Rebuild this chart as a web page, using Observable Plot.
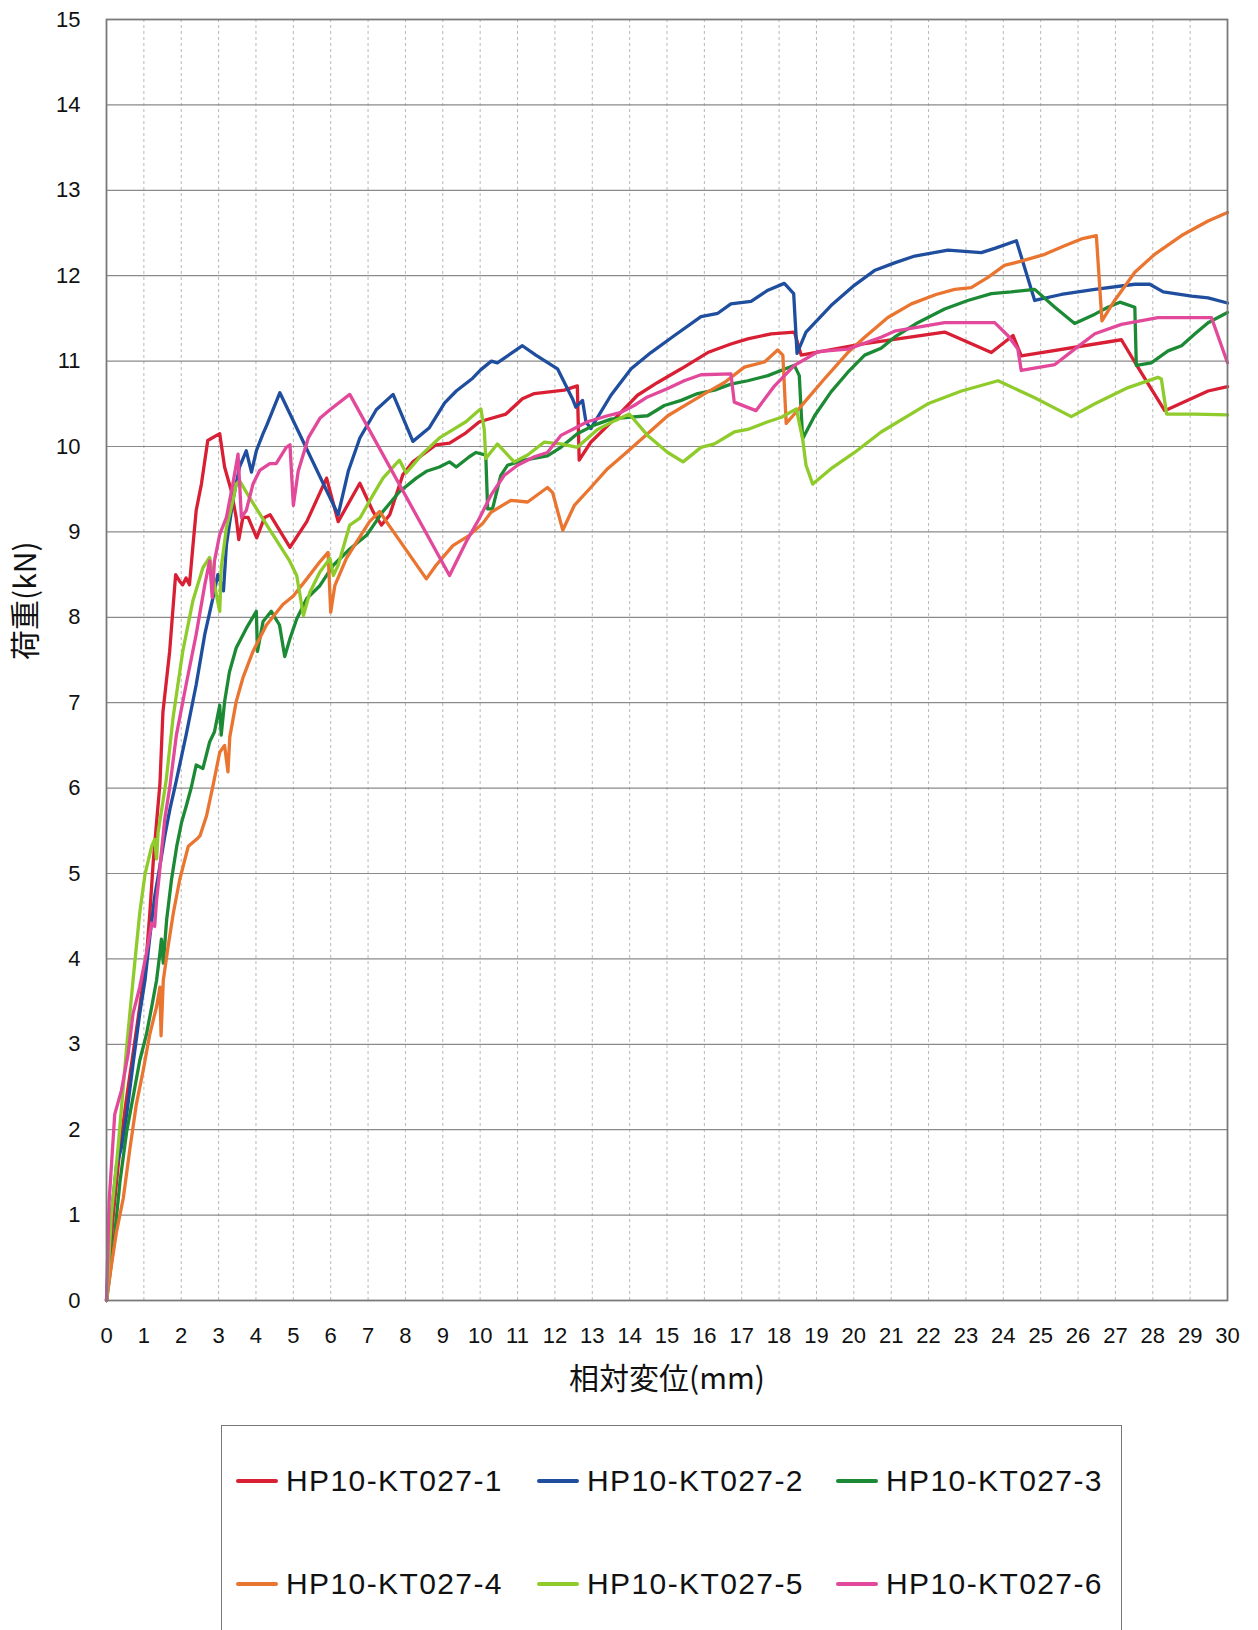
<!DOCTYPE html>
<html><head><meta charset="utf-8">
<script src="https://cdn.jsdelivr.net/npm/d3@7"></script>
<script src="https://cdn.jsdelivr.net/npm/@observablehq/plot@0.6"></script>
<style>
body{margin:0;background:#fff;width:1258px;height:1630px;overflow:hidden;position:relative;font-family:"Liberation Sans",Arial,sans-serif;}
#chart{position:absolute;left:0;top:0;}
#legend{position:absolute;left:221px;top:1425px;width:901px;height:260px;border:1.5px solid #777;box-sizing:border-box;background:#fff;}
.item{position:absolute;height:40px;line-height:40px;display:flex;align-items:center;font-size:30px;color:#111;letter-spacing:1.4px;white-space:nowrap;}
.sw{display:inline-block;width:42px;height:4px;margin-right:8px;border-radius:2px;}
</style></head>
<body>
<div id="chart"></div>
<div id="legend"></div>
<script>
const seriesNames = ["HP10-KT027-1","HP10-KT027-2","HP10-KT027-3","HP10-KT027-4","HP10-KT027-5","HP10-KT027-6"];
const seriesColors = ["#d81f34","#1f4e9e","#1c8a34","#ea7530","#8fcb2b","#e2499b"];
const xTicks = d3.range(0, 31);
const yTicks = d3.range(0, 16);
const xLabel = "相対変位(mm)";
const yLabel = "荷重(kN)";

const s1 = [[0,0],[0.18,1.0],[0.36,1.79],[0.54,2.38],[0.71,2.89],[0.89,3.44],[1.07,4.03],[1.16,4.54],[1.25,5.13],[1.34,5.6],[1.43,6.05],[1.51,6.89],[1.69,7.6],[1.85,8.5],[1.96,8.42],[2.04,8.38],[2.13,8.46],[2.22,8.38],[2.31,8.82],[2.4,9.25],[2.54,9.56],[2.71,10.07],[3.03,10.15],[3.16,9.76],[3.34,9.48],[3.47,9.17],[3.54,8.91],[3.65,9.17],[3.79,9.17],[4.02,8.93],[4.23,9.17],[4.38,9.2],[4.91,8.82],[5.36,9.12],[5.89,9.63],[6.2,9.12],[6.78,9.57],[7.13,9.24],[7.36,9.08],[7.58,9.2],[7.93,9.67],[8.2,9.82],[8.82,10.02],[9.18,10.04],[9.62,10.16],[9.98,10.29],[10.69,10.38],[11.13,10.56],[11.45,10.62],[12.25,10.66],[12.6,10.71],[12.65,9.84],[12.96,10.05],[13.59,10.32],[14.21,10.6],[14.75,10.75],[15.38,10.91],[16.09,11.1],[16.71,11.2],[17.16,11.26],[17.79,11.32],[18.41,11.34],[18.59,11.07],[20.2,11.2],[22.43,11.34],[23.68,11.1],[24.26,11.3],[24.48,11.06],[27.16,11.25],[27.6,10.93],[28.32,10.42],[29.48,10.65],[30,10.7]];
const s2 = [[0,0],[0.13,1.0],[0.27,1.59],[0.4,1.79],[0.54,2.18],[0.71,2.77],[0.89,3.36],[1.03,3.75],[1.16,4.26],[1.29,4.73],[1.43,5.09],[1.56,5.44],[1.7,5.76],[1.85,6.05],[2.13,6.62],[2.4,7.21],[2.63,7.8],[2.85,8.23],[2.98,8.5],[3.1,8.35],[3.13,8.31],[3.21,8.85],[3.38,9.36],[3.56,9.76],[3.74,9.95],[3.88,9.7],[4.01,9.95],[4.19,10.15],[4.29,10.25],[4.64,10.63],[6.2,9.2],[6.47,9.71],[6.78,10.1],[7.22,10.43],[7.67,10.61],[8.2,10.06],[8.64,10.22],[9.05,10.51],[9.36,10.65],[9.8,10.8],[10.02,10.9],[10.3,11.0],[10.46,10.98],[11.13,11.18],[11.49,11.07],[12.07,10.91],[12.47,10.56],[12.56,10.46],[12.74,10.54],[12.83,10.29],[12.96,10.21],[13.5,10.6],[14.04,10.91],[14.57,11.1],[15.2,11.3],[15.91,11.52],[16.36,11.56],[16.71,11.67],[17.25,11.7],[17.7,11.83],[18.14,11.91],[18.39,11.79],[18.48,11.09],[18.72,11.34],[19.39,11.65],[20.02,11.89],[20.55,12.06],[21.09,12.15],[21.63,12.23],[22.52,12.3],[23.41,12.27],[23.77,12.32],[24.35,12.41],[24.84,11.71],[25.55,11.78],[26.45,11.84],[27.52,11.9],[27.92,11.9],[28.28,11.81],[29.04,11.76],[29.48,11.74],[30,11.68]];
const s3 = [[0,0],[0.18,0.6],[0.36,1.39],[0.54,1.98],[0.71,2.38],[0.89,2.81],[1.07,3.12],[1.21,3.44],[1.34,3.75],[1.43,4.07],[1.47,4.23],[1.52,3.95],[1.61,4.46],[1.74,4.93],[1.88,5.32],[2.01,5.6],[2.14,5.8],[2.27,6.01],[2.4,6.27],[2.58,6.23],[2.76,6.54],[2.89,6.66],[3.03,6.97],[3.07,6.62],[3.16,7.01],[3.29,7.36],[3.47,7.64],[3.74,7.87],[4.01,8.07],[4.04,7.6],[4.19,7.95],[4.41,8.07],[4.63,7.91],[4.77,7.54],[4.91,7.75],[5.09,7.98],[5.36,8.22],[5.71,8.37],[6.07,8.61],[6.51,8.8],[6.96,8.96],[7.4,9.24],[7.84,9.47],[8.29,9.63],[8.56,9.71],[8.91,9.76],[9.18,9.82],[9.36,9.76],[9.71,9.88],[9.89,9.93],[10.15,9.9],[10.2,9.27],[10.33,9.27],[10.55,9.66],[10.73,9.78],[11.18,9.84],[11.8,9.89],[12.16,9.99],[12.6,10.15],[13.05,10.25],[13.5,10.32],[13.95,10.34],[14.48,10.36],[14.93,10.48],[15.38,10.54],[15.82,10.62],[16.27,10.66],[16.71,10.73],[17.16,10.77],[17.7,10.83],[18.05,10.89],[18.41,10.95],[18.54,10.83],[18.63,10.09],[18.95,10.36],[19.39,10.64],[19.84,10.87],[20.29,11.07],[20.73,11.15],[21.09,11.28],[21.71,11.45],[22.43,11.61],[23.05,11.71],[23.68,11.79],[24.21,11.81],[24.84,11.84],[25.38,11.63],[25.91,11.44],[26.45,11.55],[26.8,11.63],[27.12,11.69],[27.52,11.63],[27.56,10.95],[27.96,10.98],[28.41,11.12],[28.77,11.18],[29.13,11.32],[29.48,11.45],[30,11.57]];
const s4 = [[0,0],[0.13,0.41],[0.27,0.81],[0.45,1.2],[0.63,1.79],[0.8,2.3],[0.98,2.69],[1.16,3.12],[1.34,3.44],[1.43,3.67],[1.46,3.1],[1.52,3.75],[1.65,4.15],[1.79,4.54],[1.96,4.93],[2.19,5.32],[2.41,5.4],[2.5,5.44],[2.68,5.68],[2.86,6.05],[3.03,6.42],[3.16,6.5],[3.25,6.19],[3.3,6.6],[3.47,7.01],[3.65,7.29],[3.92,7.6],[4.28,7.91],[4.72,8.15],[5.0,8.25],[5.36,8.45],[5.71,8.65],[5.93,8.76],[6.0,8.06],[6.11,8.37],[6.42,8.69],[6.69,8.88],[7.04,9.12],[7.31,9.24],[7.49,9.12],[8.56,8.45],[8.82,8.61],[9.27,8.84],[9.71,8.96],[10.07,9.1],[10.29,9.23],[10.82,9.37],[11.27,9.35],[11.8,9.52],[11.94,9.46],[12.21,9.02],[12.52,9.31],[12.96,9.52],[13.41,9.74],[13.86,9.91],[14.48,10.15],[15.02,10.36],[15.55,10.5],[16.09,10.64],[16.54,10.75],[17.07,10.93],[17.61,10.99],[17.96,11.13],[18.1,11.07],[18.19,10.27],[18.37,10.36],[18.68,10.52],[19.21,10.79],[19.84,11.1],[20.29,11.28],[20.91,11.51],[21.54,11.67],[22.2,11.78],[22.7,11.84],[23.14,11.86],[23.59,11.98],[24.03,12.12],[24.48,12.17],[25.11,12.25],[25.64,12.35],[26.09,12.43],[26.49,12.47],[26.64,11.47],[26.98,11.71],[27.52,12.04],[28.05,12.25],[28.77,12.47],[29.48,12.64],[30,12.74]];
const s5 = [[0,0],[0.13,1.0],[0.31,1.79],[0.54,2.97],[0.71,3.75],[0.89,4.54],[1.03,4.99],[1.21,5.32],[1.29,5.4],[1.34,5.17],[1.38,5.48],[1.52,5.87],[1.6,6.1],[1.78,6.82],[2.04,7.6],[2.31,8.19],[2.58,8.58],[2.76,8.7],[2.89,8.38],[3.03,8.07],[3.07,8.58],[3.21,9.05],[3.38,9.36],[3.47,9.56],[3.56,9.6],[3.83,9.4],[4.29,9.08],[4.9,8.66],[5.09,8.49],[5.27,8.02],[5.44,8.29],[5.71,8.53],[5.98,8.69],[6.07,8.49],[6.2,8.61],[6.51,9.08],[6.78,9.16],[7.13,9.43],[7.4,9.63],[7.71,9.78],[7.84,9.84],[8.02,9.69],[8.47,9.92],[8.91,10.1],[9.36,10.22],[9.62,10.29],[9.93,10.41],[10.02,10.44],[10.11,10.2],[10.15,9.86],[10.46,10.03],[10.91,9.82],[11.27,9.9],[11.71,10.05],[12.16,10.03],[12.6,9.99],[13.14,10.2],[13.59,10.3],[13.99,10.38],[14.48,10.13],[15.02,9.93],[15.43,9.82],[15.91,9.99],[16.27,10.03],[16.8,10.17],[17.16,10.2],[17.7,10.29],[18.05,10.34],[18.46,10.44],[18.63,10.09],[18.72,9.78],[18.9,9.56],[19.39,9.74],[20.02,9.93],[20.73,10.17],[21.98,10.5],[22.88,10.65],[23.86,10.77],[24.84,10.57],[25.82,10.35],[26.45,10.5],[27.34,10.69],[28.14,10.81],[28.23,10.79],[28.37,10.38],[29.13,10.38],[30,10.37]];
const s6 = [[0,0],[0.07,1.16],[0.22,2.18],[0.4,2.46],[0.58,2.89],[0.71,3.36],[0.89,3.67],[1.07,4.07],[1.21,4.42],[1.29,4.38],[1.34,4.69],[1.41,4.97],[1.47,5.25],[1.56,5.64],[1.69,6.0],[1.87,6.62],[2.13,7.21],[2.4,7.8],[2.63,8.38],[2.76,8.66],[2.83,8.23],[2.89,8.66],[3.03,8.97],[3.21,9.17],[3.38,9.56],[3.52,9.91],[3.57,9.5],[3.61,9.17],[3.74,9.25],[3.92,9.56],[4.1,9.72],[4.37,9.8],[4.54,9.8],[4.81,9.99],[4.91,10.02],[5.0,9.31],[5.13,9.71],[5.4,10.1],[5.71,10.33],[5.98,10.43],[6.51,10.61],[9.18,8.49],[9.62,8.88],[9.98,9.16],[10.29,9.43],[10.64,9.66],[11.0,9.78],[11.45,9.88],[11.8,9.93],[12.16,10.13],[12.52,10.21],[12.87,10.29],[13.41,10.36],[13.77,10.4],[14.12,10.48],[14.48,10.58],[15.02,10.68],[15.46,10.77],[15.91,10.84],[16.71,10.85],[16.8,10.52],[17.38,10.42],[17.88,10.71],[18.41,10.95],[19.04,11.11],[19.84,11.14],[20.73,11.28],[21.09,11.35],[22.43,11.45],[23.77,11.45],[24.12,11.3],[24.39,11.14],[24.48,10.89],[25.38,10.96],[25.91,11.14],[26.45,11.32],[27.16,11.43],[28.14,11.51],[29.57,11.51],[30,10.98]];

const allSeries = [s1, s2, s3, s4, s5, s6];
const rows = allSeries.flatMap((s, i) => s.map(([x, y]) => ({series: seriesNames[i], x, y})));

const chart = Plot.plot({
  width: 1258,
  height: 1420,
  marginLeft: 106,
  marginRight: 31,
  marginTop: 19,
  marginBottom: 120,
  style: {fontFamily: "'Liberation Sans', Arial, sans-serif", fontSize: "22px", color: "#111", background: "transparent"},
  x: {domain: [0, 30]},
  y: {domain: [0, 15]},
  color: {domain: seriesNames, range: seriesColors},
  marks: [
    Plot.gridX(xTicks, {stroke: "#b8b8b8", strokeOpacity: 1, strokeWidth: 1, strokeDasharray: "3,3"}),
    Plot.gridY(yTicks, {stroke: "#8a8a8a", strokeOpacity: 1, strokeWidth: 1.2}),
    Plot.line(rows, {x: "x", y: "y", z: "series", stroke: "series", strokeWidth: 3.3, strokeLinejoin: "round", strokeLinecap: "round"}),
    Plot.frame({stroke: "#7a7a7a", strokeWidth: 1.8}),
    Plot.axisX(xTicks, {tickSize: 0, tickPadding: 27, label: null, fontSize: 22, tickFormat: d3.format("d")}),
    Plot.axisY(yTicks, {tickSize: 0, tickPadding: 26, label: null, fontSize: 22, tickFormat: d3.format("d")}),
    Plot.text([xLabel], {frameAnchor: "bottom", dy: 88, text: d => d, fontSize: 30, fontFamily: "'Noto Sans CJK JP', sans-serif", fill: "#111"}),
    Plot.text([yLabel], {frameAnchor: "left", dx: -80, rotate: -90, text: d => d, fontSize: 30, fontFamily: "'Noto Sans CJK JP', sans-serif", fill: "#111"})
  ]
});
document.getElementById("chart").appendChild(chart);

// legend
const legendPos = [[14, 35], [315, 35], [614, 35], [14, 138], [315, 138], [614, 138]];
const legend = document.getElementById("legend");
seriesNames.forEach((name, i) => {
  const item = document.createElement("div");
  item.className = "item";
  item.style.left = legendPos[i][0] + "px";
  item.style.top = legendPos[i][1] + "px";
  const sw = document.createElement("span");
  sw.className = "sw";
  sw.style.background = seriesColors[i];
  item.appendChild(sw);
  item.appendChild(document.createTextNode(name));
  legend.appendChild(item);
});
</script>
</body></html>
